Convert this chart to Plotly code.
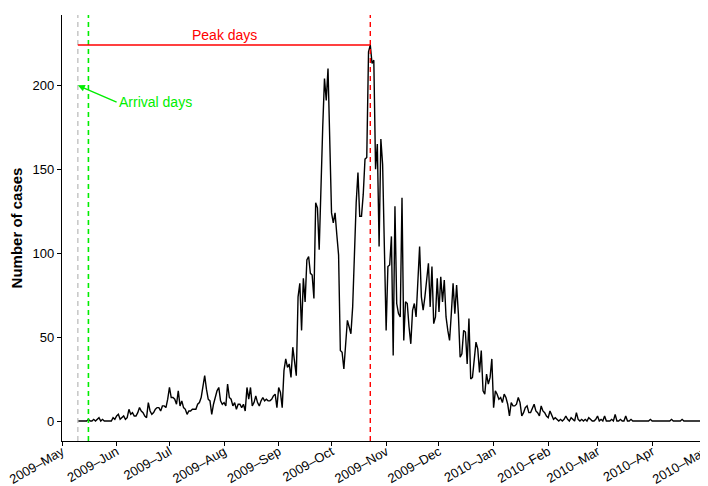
import pandas as pd
import plotly.graph_objects as go

# Daily case counts
may_2009 = [0,0,0,0,0,0,1,0,0,1,0,1,2,0,1,0,0,0,0,0,2,1]          # from May 10
jun_2009 = [3,4,1,2,3,1,2,7,4,5,3,3,5,8,6,5,3,2,11,6,4,5,7,8,8,6,9,9,8,13]
jul_2009 = [20,14,14,13,10,18,9,12,8,7,4,6,6,7,7,7,10,11,14,20,27,19,13,12,4,10,15,18,20,12,10]
aug_2009 = [11,9,22,14,13,9,11,7,10,10,8,10,6,20,13,20,9,11,15,11,9,12,14,12,13,12,12,13,15,16,8]
sep_2009 = [20,17,8,30,37,32,34,26,44,36,27,74,82,54,85,71,96,98,88,87,73,130,127,102,145,175,204,191,210,165]
oct_2009 = [124,118,124,111,99,42,41,31,45,60,56,52,68,100,130,148,122,122,135,156,157,220,224,213,215,150,165,104,168,153,104]
nov_2009 = [54,92,93,110,39,128,70,64,62,133,48,71,70,56,46,66,70,62,86,104,74,66,74,86,94,68,92,58,62,85]
dec_2009 = [65,86,71,84,62,54,48,64,82,64,81,64,38,40,54,53,34,61,25,26,35,47,43,29,42,18,16,28,22,26,37]
jan_2010 = [8,18,16,13,14,11,16,14,10,3,11,9,9,10,14,11,3,5,8,9,5,5,8,10,6,5,3,9,6,5,3]
feb_2010 = [2,6,3,1,2,1,0,1,0,1,3,1,0,2,1,0,5,1,0,1,0,1,0,2,1,0,0,1]
mar_2010 = [3,0,1,0,3,0,0,0,1,0,4,0,0,1,0,0,3,0,0,1,0,0,0,0,0,0,0,0,0,0,1]
apr_2010 = [0,0,0,0,0,0,0,0,0,0,0,1,0,0,0,0,0,1,0,0,0,0,0,0,0,0,0,0,0,0]

start_date = "2009-05-10"
end_date = "2010-04-30"
first_case_date = "2009-05-10"
arrival_date = "2009-05-16"
peak_date = "2009-10-23"
peak_label_date = "2009-08-01"
arrival_label_date = "2009-06-01"
arrival_arrow_value = 200
arrival_label_value = 190
peak_label_value = 230

x_range = ["2009-05-01", "2010-05-01"]
y_range = [-11.9, 241.9]
y_ticks = [0, 50, 100, 150, 200]

values = (may_2009 + jun_2009 + jul_2009 + aug_2009 + sep_2009 + oct_2009 +
          nov_2009 + dec_2009 + jan_2010 + feb_2010 + mar_2010 + apr_2010)
dates = pd.date_range(start_date, end_date, freq="D")
assert len(dates) == len(values)
peak_value = max(values)

FONT = "Liberation Sans, Arial, Helvetica, sans-serif"
GREEN = "#00EE00"
RED = "#FF0000"
GRAY = "#BEBEBE"
DASH = "5px,4px"

fig = go.Figure()
fig.add_trace(go.Scatter(x=dates, y=values, mode="lines",
                         line=dict(color="black", width=1.4),
                         showlegend=False, hoverinfo="skip"))

shapes = [
    dict(type="line", xref="x", yref="paper", x0=first_case_date, x1=first_case_date,
         y0=0, y1=1, line=dict(color=GRAY, width=1.3, dash=DASH)),
    dict(type="line", xref="x", yref="paper", x0=arrival_date, x1=arrival_date,
         y0=0, y1=1, line=dict(color=GREEN, width=1.6, dash=DASH)),
    dict(type="line", xref="x", yref="paper", x0=peak_date, x1=peak_date,
         y0=0, y1=1, line=dict(color=RED, width=1.4, dash=DASH)),
    dict(type="line", xref="x", yref="y", x0=first_case_date, x1=peak_date,
         y0=peak_value, y1=peak_value, line=dict(color=RED, width=1.5)),
]

annotations = [
    dict(x=peak_label_date, y=peak_label_value, xref="x", yref="y",
         text="Peak days", showarrow=False, font=dict(family=FONT, size=14, color=RED)),
    dict(x=first_case_date, y=arrival_arrow_value, xref="x", yref="y",
         ax=arrival_label_date, ay=arrival_label_value, axref="x", ayref="y",
         text="Arrival days", showarrow=True, xanchor="left", yanchor="middle",
         arrowhead=2, arrowsize=1, arrowwidth=1.4, arrowcolor=GREEN, standoff=0,
         font=dict(family=FONT, size=14, color=GREEN)),
]

# The page adds an 8px body margin, so the figure is 8px smaller and margins shifted.
fig.update_layout(
    width=700, height=478,
    margin=dict(l=54, r=3, t=7, b=45),
    paper_bgcolor="white", plot_bgcolor="white",
    font=dict(family=FONT, size=13, color="black"),
    shapes=shapes, annotations=annotations,
    xaxis=dict(range=x_range, type="date", dtick="M1", tick0="2009-05-01",
               tickformat="%Y\u2013%b", tickangle=-30,
               ticklabeloverflow="allow", ticklabelstandoff=-7,
               showline=True, linecolor="black", linewidth=1.3,
               ticks="outside", ticklen=4, tickwidth=1.2, tickcolor="black",
               showgrid=False, zeroline=False, automargin=False,
               tickfont=dict(family=FONT, size=13, color="black")),
    yaxis=dict(range=y_range, tickvals=y_ticks,
               showline=True, linecolor="black", linewidth=1.3,
               ticks="outside", ticklen=4, tickwidth=1.2, tickcolor="black",
               showgrid=False, zeroline=False, automargin=False,
               tickfont=dict(family=FONT, size=13, color="black"),
               title=dict(text="<b>Number of cases</b>", standoff=8,
                          font=dict(family=FONT, size=15, color="black"))),
)

fig.write_html("out.html")
